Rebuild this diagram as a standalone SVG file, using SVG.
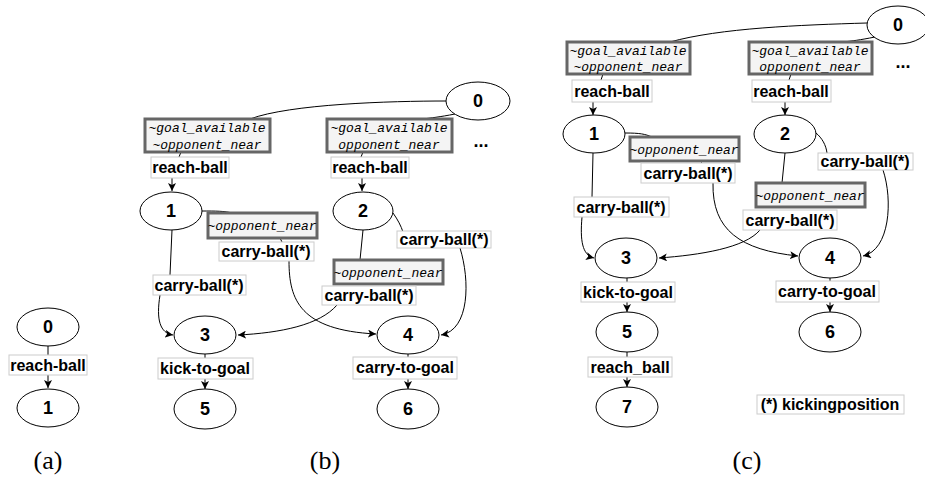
<svg xmlns="http://www.w3.org/2000/svg" width="925" height="479" viewBox="0 0 925 479">
<style>
.n ellipse{fill:#fff;stroke:#000;stroke-width:1}
.n text{font-family:"Liberation Sans",Arial,sans-serif;font-weight:bold;font-size:18px;text-anchor:middle}
.e{fill:none;stroke:#000;stroke-width:1}
.a{marker-end:url(#ah)}
.lb rect{fill:#fff;stroke:#ccc;stroke-width:1}
.lb text{font-family:"Liberation Sans",Arial,sans-serif;font-weight:bold;font-size:16px;text-anchor:middle}
.cd rect{fill:#f4f4f4;stroke:#666;stroke-width:3}
.cd text{font-family:"Liberation Mono","Courier New",monospace;font-style:italic;font-size:13px;text-anchor:middle}
.cap{font-family:"Liberation Serif","Times New Roman",serif;font-size:26px;text-anchor:middle}
.dots{font-family:"Liberation Sans",Arial,sans-serif;font-weight:bold;font-size:18px;text-anchor:middle}
</style>
<defs>
<marker id="ah" viewBox="0 0 8 8" refX="8" refY="4" markerWidth="8" markerHeight="8" markerUnits="userSpaceOnUse" orient="auto">
<path d="M0,0 L8,4 L0,8 L2,4 z" fill="#000"/>
</marker>
</defs>

<g id="connectors">
<!-- (a) -->
<path class="e a" d="M48,346 L48,388"/>
<!-- (b) -->
<path class="e" d="M446,101 C390,101 290,104 250,119"/>
<path class="e" d="M455,114 C440,117 430,118 423,119"/>
<path class="e" d="M181,152 L179,157"/>
<path class="e a" d="M172,178 L172,191"/>
<path class="e" d="M363,152 L361,157"/>
<path class="e a" d="M362,178 L362,191"/>
<path class="e" d="M202,211 C215,211 225,211 232,213"/>
<path class="e" d="M280,238 L282,242"/>
<path class="e a" d="M289,261 C289,300 300,330 376,334"/>
<path class="e" d="M172,230 L170,275"/>
<path class="e a" d="M160,295 C156,320 160,333 173,335"/>
<path class="e" d="M363,230 L360,260"/>
<path class="e a" d="M337,305 C320,325 280,333 238,335"/>
<path class="e" d="M393,213 C398,220 401,226 403,232"/>
<path class="e a" d="M460,248 C470,280 470,330 441,335"/>
<path class="e a" d="M205,354 L205,389"/>
<path class="e a" d="M408,354 L408,389"/>
<!-- (c) -->
<path class="e" d="M867,23 C800,25 720,28 670,42"/>
<path class="e" d="M875,37 C860,40 852,41 843,42"/>
<path class="e" d="M603,74 L601,80"/>
<path class="e" d="M791,74 L789,80"/>
<path class="e a" d="M593,102 L593,115"/>
<path class="e a" d="M785,102 L785,115"/>
<path class="e" d="M625,133 C640,133 645,134 652,137"/>
<path class="e" d="M700,161 L702,163"/>
<path class="e a" d="M713,183 C712,230 740,250 798,256"/>
<path class="e" d="M593,153 L592,197"/>
<path class="e a" d="M582,217 C580,240 582,255 594,258"/>
<path class="e" d="M785,153 L782,183"/>
<path class="e a" d="M760,230 C745,248 700,255 659,258"/>
<path class="e" d="M816,133 C822,138 826,145 827,153"/>
<path class="e a" d="M883,170 C893,200 890,250 863,256"/>
<path class="e a" d="M627,277 L627,312"/>
<path class="e a" d="M627,351 L627,387"/>
<path class="e a" d="M830,277 L830,312"/>
</g>

<!-- Panel (a) -->
<g id="a-n0" class="n"><ellipse cx="48" cy="327" rx="31" ry="19"/><text x="48" y="333">0</text></g>
<g id="a-l0" class="lb"><rect x="9" y="355" width="78" height="20"/><text x="48" y="371">reach-ball</text></g>
<g id="a-n1" class="n"><ellipse cx="48" cy="408" rx="31" ry="19"/><text x="48" y="414">1</text></g>
<text class="cap" x="48" y="469">(a)</text>

<!-- Panel (b) -->
<g id="b-n0" class="n"><ellipse cx="478" cy="101" rx="32" ry="19"/><text x="478" y="107">0</text></g>
<g id="b-c1" class="cd"><rect x="145" y="119" width="125" height="33"/><text x="207" y="132">~goal_available</text><text x="207" y="149">~opponent_near</text></g>
<g id="b-c2" class="cd"><rect x="327" y="119" width="125" height="33"/><text x="389" y="132">~goal_available</text><text x="389" y="149">opponent_near</text></g>
<text class="dots" x="481" y="147">...</text>
<g id="b-l1" class="lb"><rect x="151" y="157" width="78" height="21"/><text x="190" y="173">reach-ball</text></g>
<g id="b-l2" class="lb"><rect x="331" y="157" width="78" height="21"/><text x="370" y="173">reach-ball</text></g>
<g id="b-n1" class="n"><ellipse cx="171" cy="211" rx="31" ry="19"/><text x="171" y="217">1</text></g>
<g id="b-n2" class="n"><ellipse cx="363" cy="211" rx="30" ry="19"/><text x="363" y="217">2</text></g>
<g id="b-c3" class="cd"><rect x="208" y="213" width="109" height="25"/><text x="262" y="230">~opponent_near</text></g>
<g id="b-l3" class="lb"><rect x="219" y="242" width="95" height="19"/><text x="266" y="257">carry-ball(*)</text></g>
<g id="b-l4" class="lb"><rect x="153" y="275" width="93" height="20"/><text x="199" y="291">carry-ball(*)</text></g>
<g id="b-c4" class="cd"><rect x="334" y="260" width="109" height="24"/><text x="388" y="277">~opponent_near</text></g>
<g id="b-l5" class="lb"><rect x="322" y="286" width="94" height="19"/><text x="369" y="301">carry-ball(*)</text></g>
<g id="b-l6" class="lb"><rect x="397" y="231" width="94" height="17"/><text x="444" y="245">carry-ball(*)</text></g>
<g id="b-n3" class="n"><ellipse cx="205" cy="335" rx="31" ry="19"/><text x="205" y="341">3</text></g>
<g id="b-n4" class="n"><ellipse cx="408" cy="335" rx="31" ry="19"/><text x="408" y="341">4</text></g>
<g id="b-l7" class="lb"><rect x="158" y="358" width="95" height="21"/><text x="205" y="374">kick-to-goal</text></g>
<g id="b-l8" class="lb"><rect x="353" y="357" width="104" height="22"/><text x="405" y="373">carry-to-goal</text></g>
<g id="b-n5" class="n"><ellipse cx="205" cy="409" rx="31" ry="20"/><text x="205" y="415">5</text></g>
<g id="b-n6" class="n"><ellipse cx="408" cy="409" rx="31" ry="20"/><text x="408" y="415">6</text></g>
<text class="cap" x="325" y="469">(b)</text>

<!-- Panel (c) -->
<g id="c-n0" class="n"><ellipse cx="898" cy="25" rx="31" ry="19"/><text x="898" y="31">0</text></g>
<g id="c-c1" class="cd"><rect x="567" y="42" width="123" height="32"/><text x="628" y="55">~goal_available</text><text x="628" y="71">~opponent_near</text></g>
<g id="c-c2" class="cd"><rect x="749" y="42" width="123" height="32"/><text x="810" y="55">~goal_available</text><text x="810" y="71">opponent_near</text></g>
<text class="dots" x="903" y="68">...</text>
<g id="c-l1" class="lb"><rect x="572" y="80" width="80" height="22"/><text x="612" y="97">reach-ball</text></g>
<g id="c-l2" class="lb"><rect x="752" y="80" width="79" height="22"/><text x="791" y="97">reach-ball</text></g>
<g id="c-n1" class="n"><ellipse cx="594" cy="134" rx="31" ry="19"/><text x="594" y="140">1</text></g>
<g id="c-n2" class="n"><ellipse cx="785" cy="134" rx="31" ry="19"/><text x="785" y="140">2</text></g>
<g id="c-c3" class="cd"><rect x="630" y="137" width="109" height="24"/><text x="684" y="154">~opponent_near</text></g>
<g id="c-l3" class="lb"><rect x="641" y="163" width="94" height="20"/><text x="688" y="179">carry-ball(*)</text></g>
<g id="c-l4" class="lb"><rect x="574" y="197" width="95" height="20"/><text x="621" y="213">carry-ball(*)</text></g>
<g id="c-c4" class="cd"><rect x="756" y="183" width="109" height="24"/><text x="810" y="200">~opponent_near</text></g>
<g id="c-l5" class="lb"><rect x="743" y="210" width="94" height="20"/><text x="790" y="226">carry-ball(*)</text></g>
<g id="c-l6" class="lb"><rect x="818" y="153" width="95" height="17"/><text x="865" y="167">carry-ball(*)</text></g>
<g id="c-n3" class="n"><ellipse cx="626" cy="258" rx="31" ry="20"/><text x="626" y="264">3</text></g>
<g id="c-n4" class="n"><ellipse cx="830" cy="258" rx="31" ry="20"/><text x="830" y="264">4</text></g>
<g id="c-l7" class="lb"><rect x="581" y="282" width="94" height="20"/><text x="628" y="298">kick-to-goal</text></g>
<g id="c-l8" class="lb"><rect x="776" y="281" width="103" height="21"/><text x="827" y="297">carry-to-goal</text></g>
<g id="c-n5" class="n"><ellipse cx="627" cy="332" rx="31" ry="20"/><text x="627" y="338">5</text></g>
<g id="c-n6" class="n"><ellipse cx="830" cy="332" rx="31" ry="20"/><text x="830" y="338">6</text></g>
<g id="c-l9" class="lb"><rect x="588" y="357" width="84" height="20"/><text x="630" y="373">reach_ball</text></g>
<g id="c-n7" class="n"><ellipse cx="627" cy="407" rx="31" ry="20"/><text x="627" y="413">7</text></g>
<g id="c-legend" class="lb"><rect x="757" y="395" width="147" height="19"/><text x="830" y="410">(*) kickingposition</text></g>
<text class="cap" x="747" y="469">(c)</text>
</svg>
